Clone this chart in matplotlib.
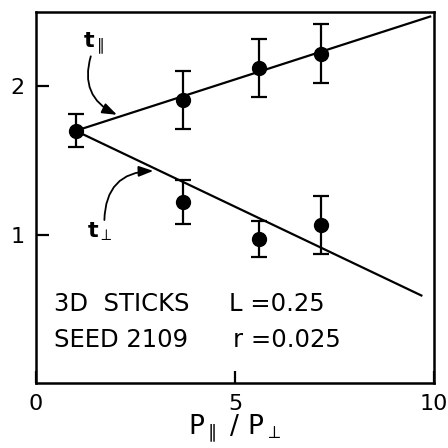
"""
plot.py -- t_par / t_perp versus anisotropy ratio, 3D sticks (seed 2109)
"""

import matplotlib

matplotlib.use("Agg")
import matplotlib.pyplot as plt

# ── Data ──────────────────────────────────────────────────────────────────────
ratio = [1.0, 3.7, 5.6, 7.15]  # P_par / P_perp
t_par = [1.70, 1.905, 2.125, 2.22]
t_par_err = [0.11, 0.195, 0.195, 0.20]

ratio_perp = [3.7, 5.6, 7.15]
t_perp = [1.22, 0.97, 1.065]
t_perp_err = [0.15, 0.12, 0.195]

# straight-line fits drawn through the points
fit_par_x = [1.0, 9.9]
fit_par_y = [1.70, 2.47]
fit_perp_x = [1.0, 9.68]
fit_perp_y = [1.70, 0.59]

x_ticks = [0, 5, 10]
x_tick_labels = ["0", "5", "10"]
y_ticks = [1, 2]
y_tick_labels = ["1", "2"]

# ── Style ─────────────────────────────────────────────────────────────────────
plt.rcParams.update({"font.family": "DejaVu Sans", "font.size": 16})

fig = plt.figure(figsize=(4.48, 4.48), dpi=100)
ax = fig.add_axes([0.080, 0.145, 0.889, 0.828])

ax.plot(fit_par_x, fit_par_y, color="black", lw=1.6)
ax.plot(fit_perp_x, fit_perp_y, color="black", lw=1.6)

err_kw = dict(fmt="o", color="black", ms=10, capsize=6, elinewidth=1.6, capthick=1.6)
ax.errorbar(ratio, t_par, yerr=t_par_err, **err_kw)
ax.errorbar(ratio_perp, t_perp, yerr=t_perp_err, **err_kw)

# curly arrows pointing at each line
arrow = dict(arrowstyle="-|>,head_length=0.55,head_width=0.2", color="black", lw=1.3)
ax.text(1.45, 2.29, r"$\mathbf{t}_{\parallel}$", ha="center", va="center", fontsize=16)
ax.annotate("", xy=(2.1, 1.80), xytext=(1.4, 2.22),
            arrowprops=dict(connectionstyle="arc3,rad=0.45", **arrow))
ax.text(1.6, 1.02, r"$\mathbf{t}_{\perp}$", ha="center", va="center", fontsize=16)
ax.annotate("", xy=(3.02, 1.43), xytext=(1.72, 1.08),
            arrowprops=dict(connectionstyle="arc3,rad=-0.5", **arrow))

# run parameters
ax.text(0.45, 0.53, "3D  STICKS", ha="left", va="center", fontsize=17.5)
ax.text(4.85, 0.53, "L =0.25", ha="left", va="center", fontsize=17.5)
ax.text(0.45, 0.29, "SEED 2109", ha="left", va="center", fontsize=17.5)
ax.text(4.95, 0.29, "r =0.025", ha="left", va="center", fontsize=17.5)

ax.set_xlim(0, 10)
ax.set_ylim(0, 2.5)
ax.set_xticks(x_ticks)
ax.set_xticklabels(x_tick_labels)
ax.set_yticks(y_ticks)
ax.set_yticklabels(y_tick_labels)
ax.tick_params(direction="in", length=9, width=1.6, pad=8, labelsize=16)
for s in ax.spines.values():
    s.set_linewidth(1.8)

ax.set_xlabel(r"$\mathregular{P_{\parallel}\ /\ P_{\perp}}$", fontsize=19, labelpad=-1)

fig.savefig("out.png", dpi=100)
